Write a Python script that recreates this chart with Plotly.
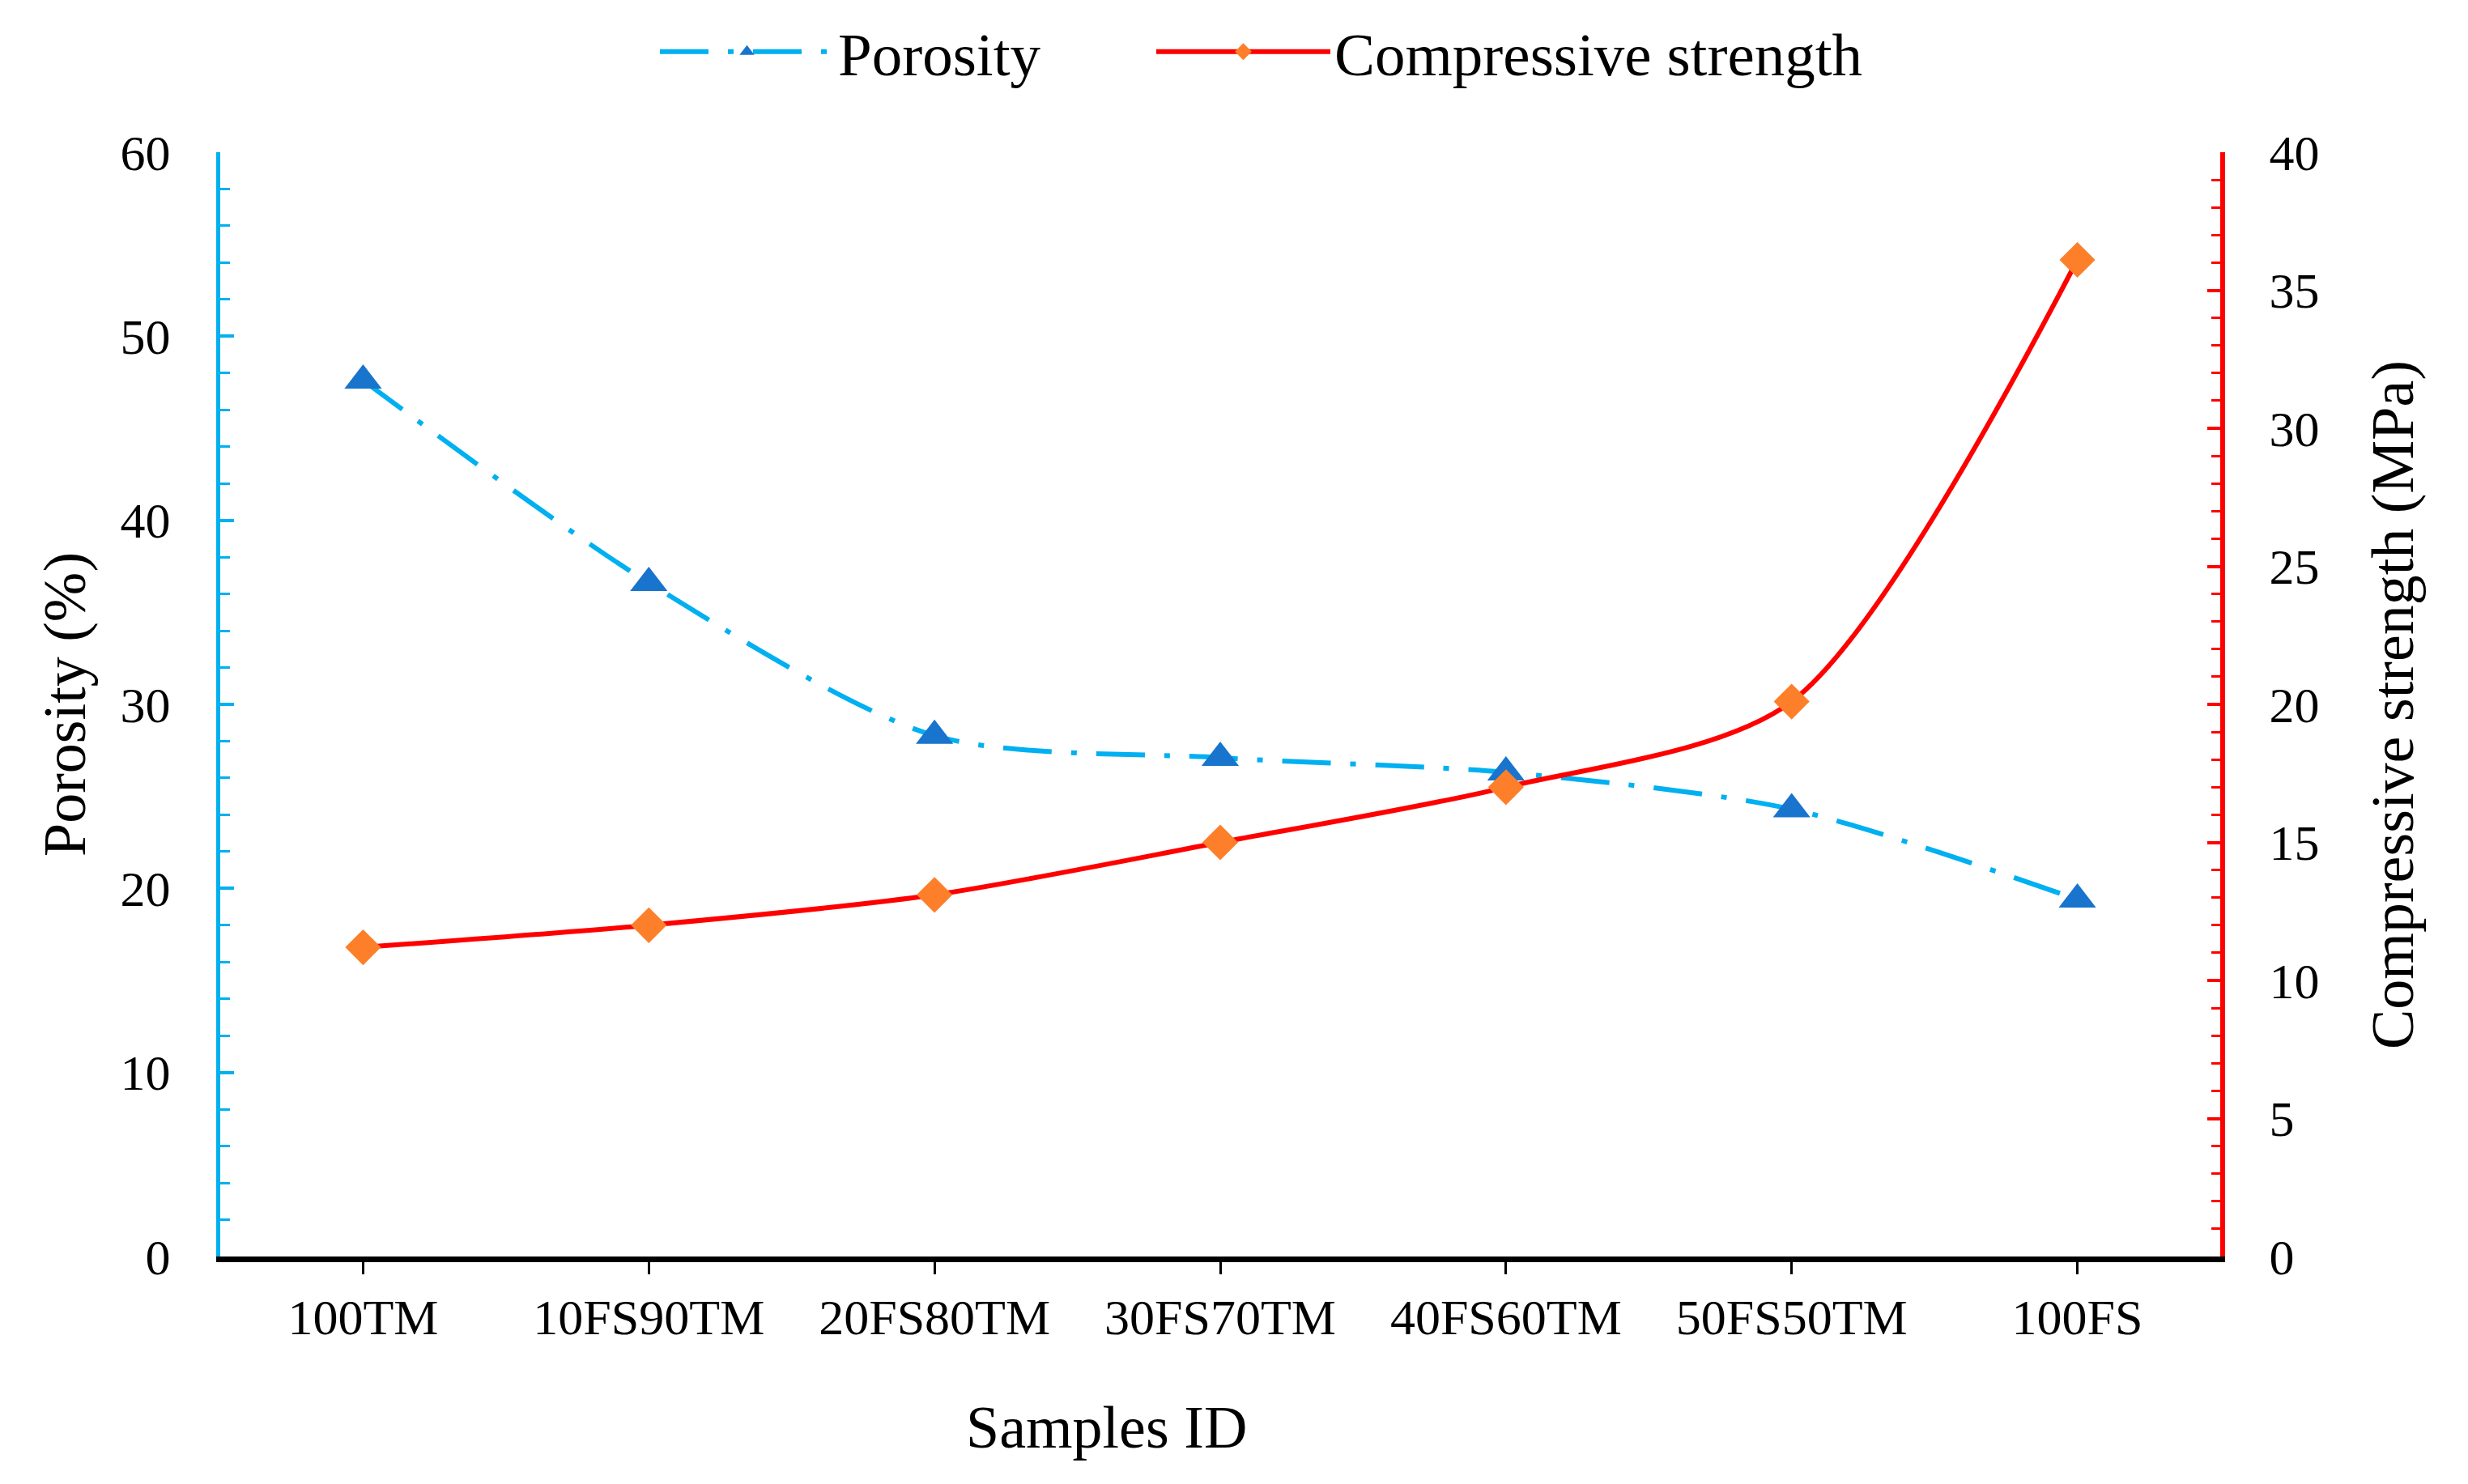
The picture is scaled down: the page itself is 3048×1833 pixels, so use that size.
import plotly.graph_objects as go

samples = ["100TM", "10FS90TM", "20FS80TM", "30FS70TM", "40FS60TM", "50FS50TM", "100FS"]
porosity = [47.6, 36.6, 28.3, 27.1, 26.3, 24.3, 19.4]
strength = [11.2, 12.0, 13.1, 15.0, 17.0, 20.1, 36.1]

OFF = 8  # default page body margin
W, H = 3048 - 2 * OFF, 1833 - 2 * OFF
L, T = 272 - OFF, 188 - OFF
R = W - (2742 - OFF)
B = H - (1552 - OFF)
FONT = "Liberation Serif"
BLUE = "#00B0F0"
RED = "#FF0000"

pw = W - L - R
ph = H - T - B


def px_x(x):
    return (x - OFF - L) / pw


def px_y(y):
    return (T + ph - (y - OFF)) / ph


fig = go.Figure()
fig.add_trace(go.Scatter(
    x=samples, y=porosity, name="Porosity", mode="lines+markers",
    line=dict(color=BLUE, width=6, dash="60px,24px,7px,24px", shape="spline", smoothing=0.8),
    marker=dict(symbol="triangle-up", size=40, color="#1874CD"),
    yaxis="y", legend="legend"))
fig.add_trace(go.Scatter(
    x=samples, y=strength, name="Compressive strength", mode="lines+markers",
    line=dict(color=RED, width=6, shape="spline", smoothing=0.8),
    marker=dict(symbol="diamond", size=34, color="#FD7F2A"),
    yaxis="y2", legend="legend2"))

leg_common = dict(orientation="h", xanchor="left", yanchor="middle",
                  font=dict(family=FONT, size=75), itemwidth=215,
                  bgcolor="rgba(0,0,0,0)")

fig.update_layout(
    width=W, height=H,
    margin=dict(l=L, r=R, t=T, b=B, pad=0, autoexpand=False),
    paper_bgcolor="white", plot_bgcolor="white",
    font=dict(family=FONT, color="black", size=62),
    showlegend=True,
    legend=dict(x=px_x(810), y=px_y(64), **leg_common),
    legend2=dict(x=px_x(1423), y=px_y(64), **leg_common),
    xaxis=dict(type="category", range=[-0.5, 6.5], showline=True, linecolor="black",
               linewidth=7, ticks="outside", ticklen=15, tickwidth=3, tickcolor="black",
               showgrid=False, zeroline=False, tickfont=dict(family=FONT, size=62),
               ticklabelstandoff=0, automargin=False),
    yaxis=dict(range=[0, 60], dtick=10, showline=True, linecolor=BLUE, linewidth=5,
               ticks="inside", ticklen=17, tickwidth=4, tickcolor=BLUE,
               minor=dict(dtick=2, ticks="inside", ticklen=12, tickwidth=3, tickcolor=BLUE),
               showgrid=False, zeroline=False, tickfont=dict(family=FONT, size=62),
               ticklabelstandoff=44, automargin=False),
    yaxis2=dict(range=[0, 40], dtick=5, overlaying="y", side="right", anchor="x",
                showline=True, linecolor=RED, linewidth=6,
                ticks="inside", ticklen=16, tickwidth=4, tickcolor=RED,
                minor=dict(dtick=1, ticks="inside", ticklen=11, tickwidth=3, tickcolor=RED),
                showgrid=False, zeroline=False, tickfont=dict(family=FONT, size=62),
                ticklabelstandoff=42, automargin=False),
    annotations=[
        dict(text="Samples ID", xref="paper", yref="paper",
             x=px_x(1366), y=px_y(1763), xanchor="center", yanchor="middle",
             showarrow=False, font=dict(family=FONT, size=74)),
        dict(text="Porosity (%)", xref="paper", yref="paper", textangle=-90,
             x=px_x(80), y=0.5, xanchor="center", yanchor="middle",
             showarrow=False, font=dict(family=FONT, size=74)),
        dict(text="Compressive strength (MPa)", xref="paper", yref="paper", textangle=-90,
             x=px_x(2955), y=0.5, xanchor="center", yanchor="middle",
             showarrow=False, font=dict(family=FONT, size=74)),
    ],
)

fig.write_html("out.html")
